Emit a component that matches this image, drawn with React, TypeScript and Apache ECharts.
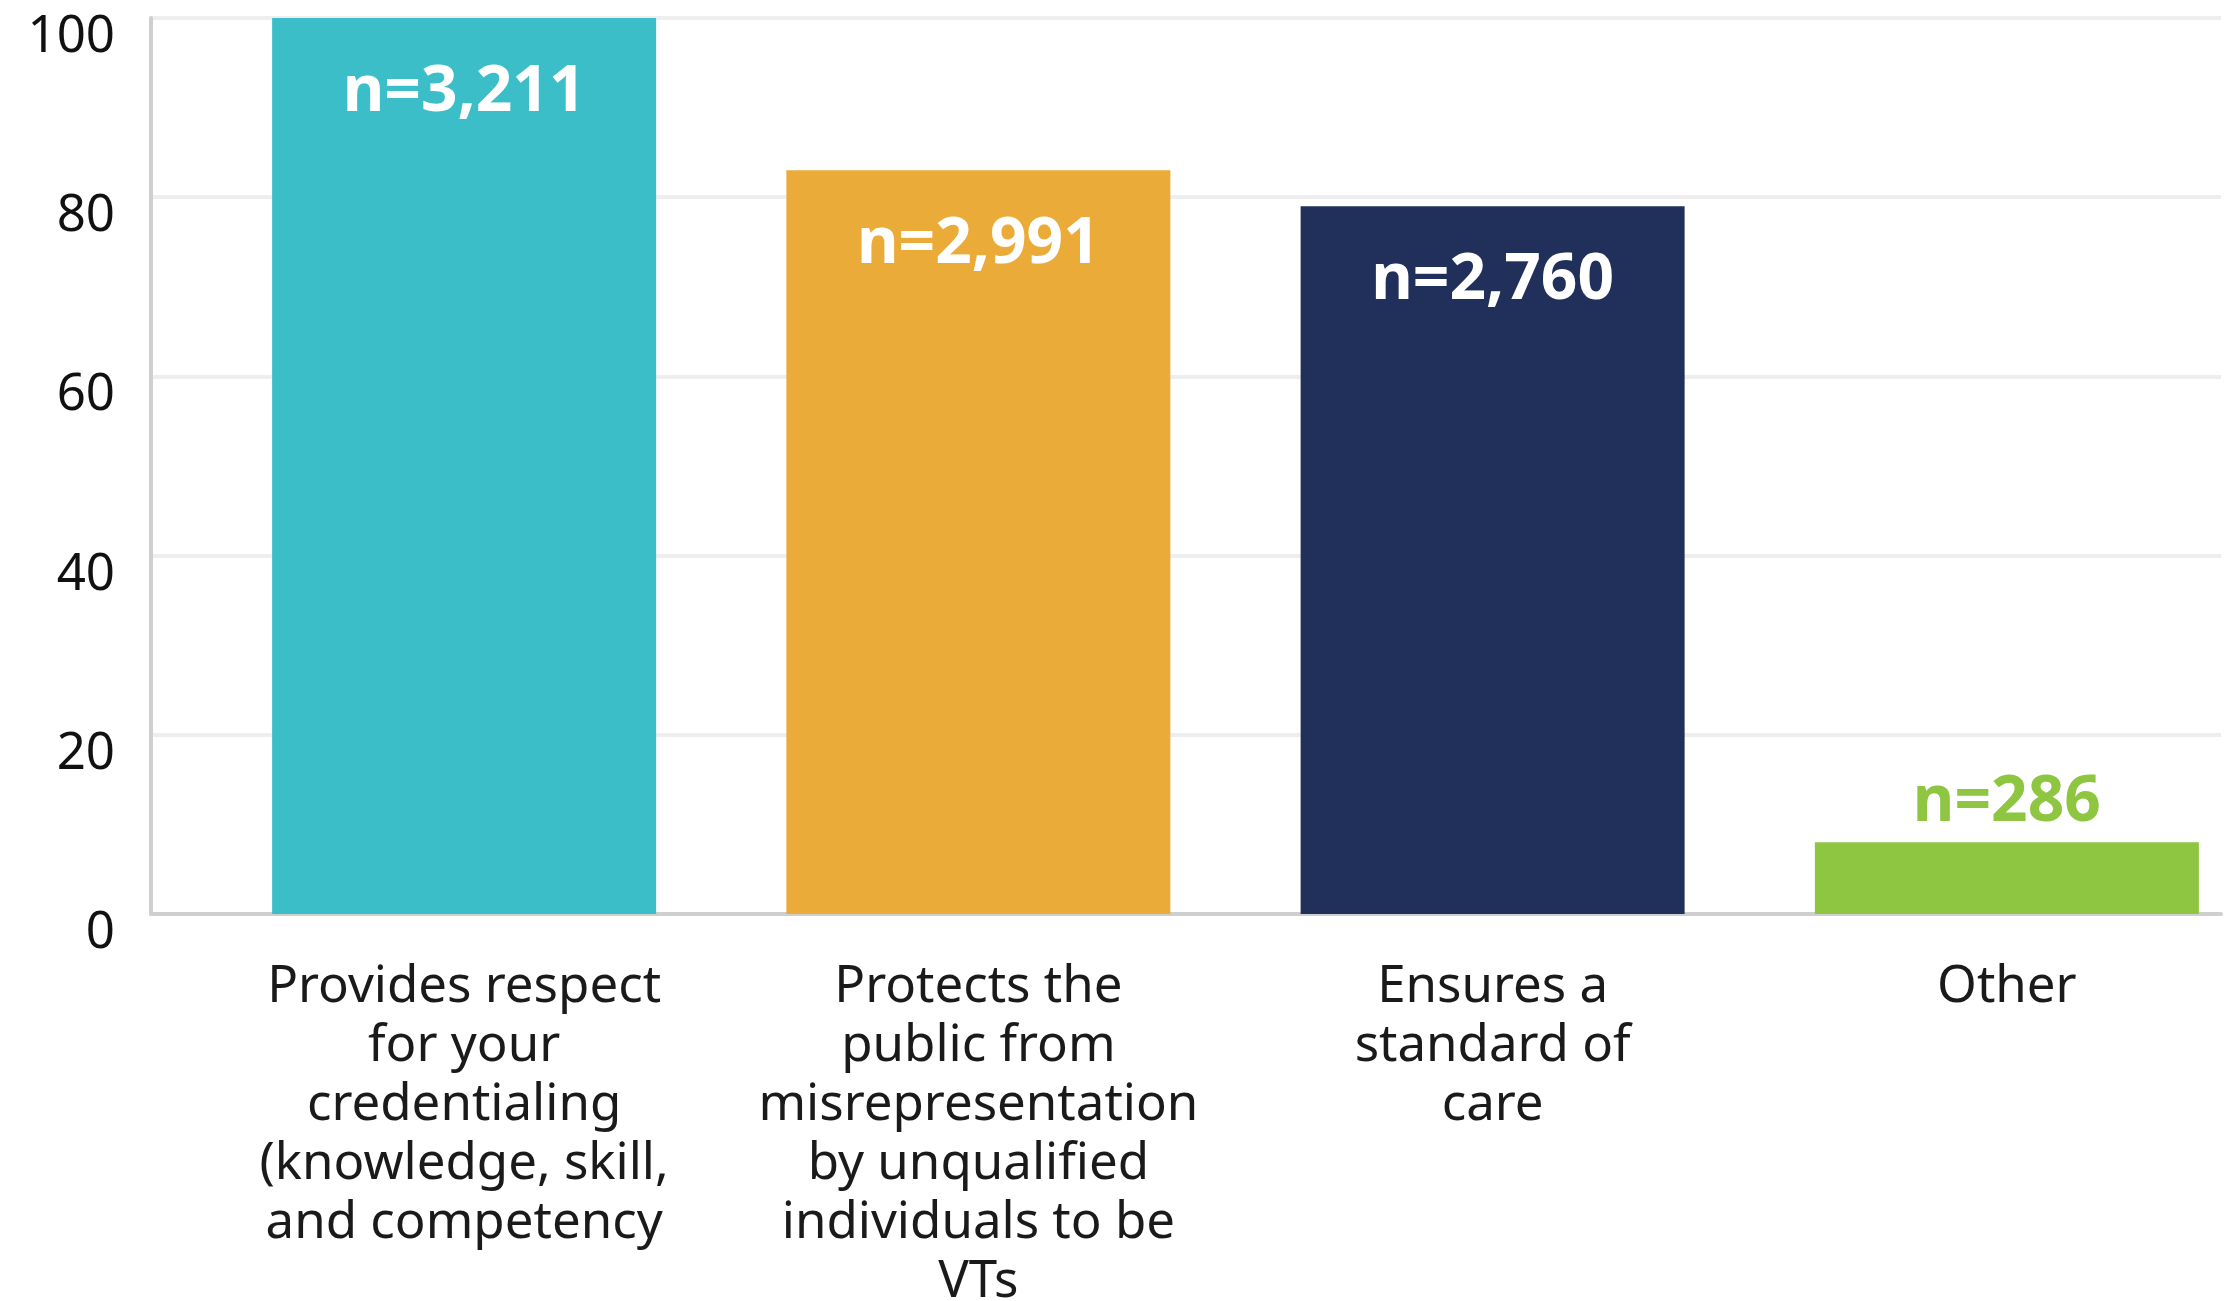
import React, { useEffect, useRef } from "react";
import * as echarts from "echarts";

const categories = [
  "Provides respect\nfor your\ncredentialing\n(knowledge, skill,\nand competency",
  "Protects the\npublic from\nmisrepresentation\nby unqualified\nindividuals to be\nVTs",
  "Ensures a\nstandard of\ncare",
  "Other",
];
const values = [100, 83, 79, 8];
const countLabels = ["n=3,211", "n=2,991", "n=2,760", "n=286"];
const barColors = ["#3CBEC8", "#EBAB38", "#20305A", "#8FC641"];
const yMin = 0;
const yMax = 100;
const yStep = 20;

const FONT = "'Noto Sans', sans-serif";

export default function App() {
  const ref = useRef<HTMLDivElement>(null);

  useEffect(() => {
    if (!ref.current) return;
    const chart = echarts.init(ref.current, undefined, { renderer: "svg" });

    const data = values.map((v, i) => {
      const inside = i < values.length - 1;
      return {
        value: v,
        itemStyle: { color: barColors[i] },
        label: {
          show: true,
          formatter: countLabels[i],
          position: inside ? "insideTop" : "top",
          distance: inside ? 36 : 14,
          color: inside ? "#ffffff" : barColors[i],
          fontFamily: FONT,
          fontWeight: "bold",
          fontSize: 64,
        },
      };
    });

    chart.setOption({
      animation: false,
      backgroundColor: "#ffffff",
      grid: [
        { left: 151, top: 18, width: 2070, height: 896, containLabel: false, outerBoundsMode: "none" },
        { left: 207, top: 18, width: 2057, height: 896, containLabel: false, outerBoundsMode: "none" },
      ],
      xAxis: [
        {
          gridIndex: 0,
          type: "value",
          min: 0,
          max: 1,
          axisLine: { show: true, lineStyle: { color: "#cfcfcf", width: 4 } },
          axisTick: { show: false },
          axisLabel: { show: false },
          splitLine: { show: false },
        },
        {
          gridIndex: 1,
          type: "category",
          data: categories,
          axisLine: { show: false },
          axisTick: { show: false },
          axisLabel: {
            interval: 0,
            margin: 38,
            fontFamily: FONT,
            fontSize: 51,
            lineHeight: 59,
            color: "#1a1a1a",
            align: "center",
            hideOverlap: false,
          },
        },
      ],
      yAxis: [
        {
          gridIndex: 0,
          type: "value",
          min: yMin,
          max: yMax,
          interval: yStep,
          axisLine: { show: true, lineStyle: { color: "#cfcfcf", width: 4 } },
          axisTick: { show: false },
          axisLabel: {
            margin: 36,
            fontFamily: FONT,
            fontSize: 51,
            color: "#111111",
            verticalAlign: "top",
            lineHeight: 28,
          },
          splitLine: { show: true, lineStyle: { color: "#eeeeee", width: 4 } },
        },
        {
          gridIndex: 1,
          type: "value",
          min: yMin,
          max: yMax,
          interval: yStep,
          show: false,
          splitLine: { show: false },
        },
      ],
      series: [
        {
          type: "bar",
          xAxisIndex: 1,
          yAxisIndex: 1,
          barWidth: 384,
          data,
        },
      ],
    });

    return () => chart.dispose();
  }, []);

  return (
    <div
      ref={ref}
      style={{ position: "fixed", left: 0, top: 0, width: 2240, height: 1301, background: "#fff" }}
    />
  );
}
